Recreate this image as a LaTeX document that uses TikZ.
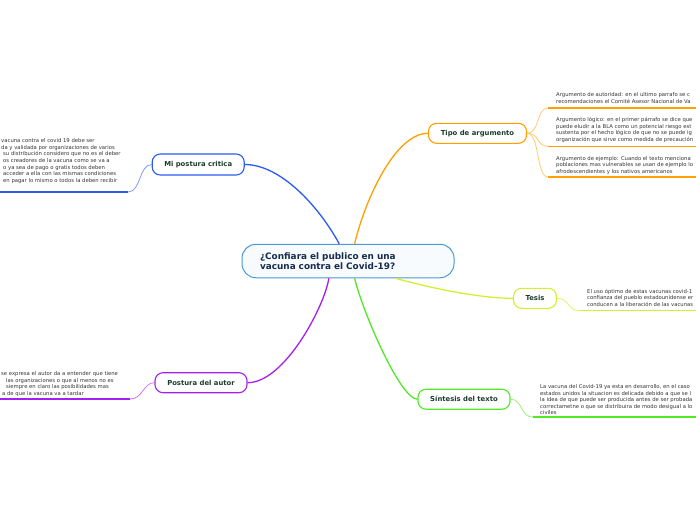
\documentclass[tikz,border=0pt]{standalone}
\usepackage{fontspec}
\setmainfont{DejaVu Sans}
\definecolor{cborder}{HTML}{4A98D8}
\definecolor{cfill}{HTML}{F7FBFE}
\definecolor{ctext}{HTML}{172B4D}
\definecolor{ttext}{HTML}{1C3D2B}
\definecolor{stext}{HTML}{333333}
\definecolor{bBlue}{HTML}{2A5CF2}
\definecolor{bOrange}{HTML}{FFA000}
\definecolor{bYellow}{HTML}{D2F032}
\definecolor{bGreen}{HTML}{52E824}
\definecolor{bPurple}{HTML}{A41FF0}
\begin{document}
\begin{tikzpicture}[x=1pt,y=-1pt,
  topic/.style={draw, rounded corners=8pt, line width=1.1pt, fill=white,
    font=\bfseries\fontsize{6.85}{8}\selectfont, text=ttext, minimum height=20pt, inner xsep=0pt},
  subtext/.style={anchor=north west, align=left, inner sep=0pt,
    font=\fontsize{5.3}{6.5}\selectfont, text=stext},
  conn/.style={line width=1.3pt},
  subconn/.style={line width=0.8pt},
  uline/.style={line width=1.5pt}]
\useasboundingbox (0,0) rectangle (696,520);
\clip (0,0) rectangle (696,520);

% central node
\node[draw=cborder, fill=cfill, rounded corners=14pt, line width=1pt,
  minimum width=212pt, minimum height=33.5pt, inner xsep=18pt, text width=176pt,
  align=left, text=ctext, font=\bfseries\fontsize{8.9}{10.5}\selectfont] (c) at (348,261)
  {¿Confiara el publico en una\\vacuna contra el Covid-19?};

% main topics
\node[topic, draw=bBlue, minimum width=92pt, minimum height=21pt] (mi) at (198.2,164.5) {Mi postura critica};
\node[topic, draw=bOrange, minimum width=98pt] (tipo) at (477.5,133.3) {Tipo de argumento};
\node[topic, draw=bYellow, minimum width=43pt] (tesis) at (535,298.3) {Tesis};
\node[topic, draw=bGreen, minimum width=92pt] (sint) at (464,399.2) {Síntesis del texto};
\node[topic, draw=bPurple, minimum width=92pt] (post) at (201,382.7) {Postura del autor};

% connectors center -> topics
\draw[conn, bBlue] (c.117) .. controls (318,205) and (280,164.5) .. (mi.east);
\draw[conn, bOrange] (c.69) .. controls (365,200) and (395,133.3) .. (tipo.west);
\draw[conn, bYellow] (c.340) .. controls (430,288) and (480,298.3) .. (tesis.west);
\draw[conn, bGreen] (c.291) .. controls (362,310) and (400,399.2) .. (sint.west);
\draw[conn, bPurple] (c.222) .. controls (325,305) and (285,382.7) .. (post.east);

% sub texts
\node[subtext] (s1) at (556,92.7) {Argumento de autoridad: en el ultimo parrafo se c\\recomendaciones el Comité Asesor Nacional de Va};
\node[subtext] (s2) at (556,117.1) {Argumento lógico: en el primer párrafo se dice que\\puede eludir a la BLA como un potencial riesgo est\\sustenta por el hecho lógico de que no se puede ig\\organización que sirve como medida de precaución};
\node[subtext] (s3) at (556,156.1) {Argumento de ejemplo: Cuando el texto menciona\\poblaciones mas vulnerables se usan de ejemplo lo\\afrodescendientes y los nativos americanos};
\node[subtext] (s4) at (587,288.6) {El uso óptimo de estas vacunas covid-1\\confianza del pueblo estadounidense er\\conducen a la liberación de las vacunas};
\node[subtext] (s5) at (540,384.7) {La vacuna del Covid-19 ya esta en desarrollo, en el caso\\estados unidos la situacion es delicada debido a que se l\\la idea de que puede ser producida antes de ser probada\\correctametne o que se distribuira de modo desigual a lo\\civiles};
\node[subtext, font=\fontsize{5.3}{6.67}\selectfont] (s6) at (1,138.1) {vacuna contra el covid 19 debe ser\\da y validada por organizaciones de varios\\\hspace{2pt}su distribución considero que no es el deber\\\hspace{2pt}os creadores de la vacuna como se va a\\\hspace{2pt}o ya sea de pago o gratis todos deben\\\hspace{2pt}acceder a ella con las mismas condiciones\\\hspace{2pt}en pagar lo mismo o todos la deben recibir};
\node[subtext] (s7) at (1,371.4) {se expresa el autor da a entender que tiene\\\hspace{5pt}las organizaciones o que al menos no es\\\hspace{5pt}siempre en claro las posibilidades mas\\\hspace{1pt}a de que la vacuna va a tardar};

% underline coordinates
\coordinate (u1a) at (548,108);   \coordinate (u1b) at (696,108);
\coordinate (u2a) at (548,146.3); \coordinate (u2b) at (696,146.3);
\coordinate (u3a) at (548,177);   \coordinate (u3b) at (696,177);
\coordinate (u4a) at (580,310.7); \coordinate (u4b) at (696,310.7);
\coordinate (u5a) at (533,417);   \coordinate (u5b) at (696,417);
\coordinate (u6a) at (128,192);   \coordinate (u6b) at (0,192);
\coordinate (u7a) at (130,399);   \coordinate (u7b) at (0,399);

% sub connectors
\draw[subconn, bOrange!55] (tipo.east) .. controls (540,133.3) and (536,108) .. (u1a);
\draw[subconn, bOrange!55] (tipo.east) .. controls (540,133.3) and (536,146.3) .. (u2a);
\draw[subconn, bOrange!55] (tipo.east) .. controls (540,133.3) and (536,177) .. (u3a);
\draw[uline, bOrange] (u1a) -- (u1b);
\draw[uline, bOrange] (u2a) -- (u2b);
\draw[uline, bOrange] (u3a) -- (u3b);

\draw[subconn, bYellow!70] (tesis.east) .. controls (570,298.3) and (567,310.7) .. (u4a);
\draw[uline, bYellow] (u4a) -- (u4b);

\draw[subconn, bGreen!60] (sint.east) .. controls (523,399.2) and (520,417) .. (u5a);
\draw[uline, bGreen] (u5a) -- (u5b);

\draw[subconn, bBlue!60] (mi.west) .. controls (139,164.5) and (141,192) .. (u6a);
\draw[uline, bBlue] (u6a) -- (u6b);

\draw[subconn, bPurple!60] (post.west) .. controls (143,382.7) and (143,399) .. (u7a);
\draw[uline, bPurple] (u7a) -- (u7b);
\end{tikzpicture}
\end{document}
